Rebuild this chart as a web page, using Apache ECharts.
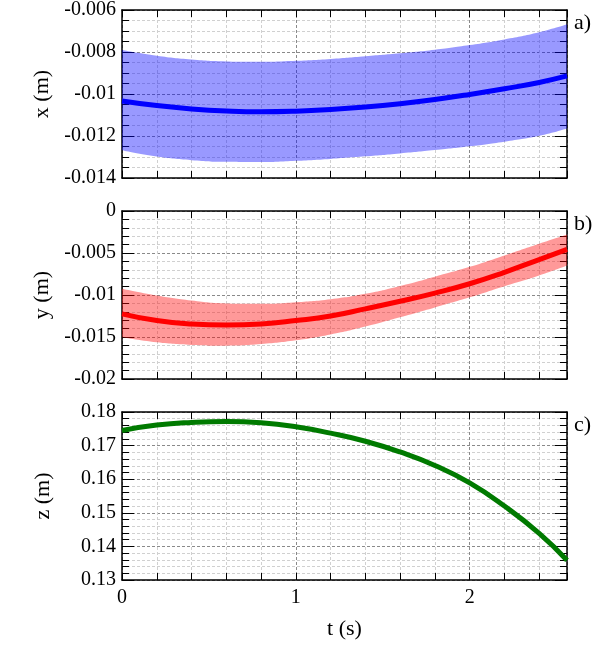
<!DOCTYPE html>
<html>
<head>
<meta charset="utf-8">
<script src="https://cdn.jsdelivr.net/npm/echarts@6/dist/echarts.min.js"></script>
<style>
  html, body { margin: 0; padding: 0; background: #fff; }
  #main { width: 607px; height: 646px; }
</style>
</head>
<body>
<div id="main"></div>
<script>
// time samples (s)
const tVals = [0, 0.2, 0.4, 0.6, 0.8, 1.0, 1.2, 1.4, 1.6, 1.8, 2.0, 2.2, 2.4, 2.56];

// a) x (m)
const xMean  = [-0.01033, -0.01055, -0.01071, -0.01081, -0.01085, -0.01082, -0.01074, -0.01062, -0.01046, -0.01026, -0.01002, -0.00975, -0.00945, -0.00914];
const xUpper = [-0.00791, -0.00818, -0.00836, -0.00845, -0.00847, -0.00842, -0.00833, -0.00820, -0.00806, -0.00789, -0.00767, -0.00740, -0.00706, -0.00668];
const xLower = [-0.01268, -0.01298, -0.01315, -0.01323, -0.01324, -0.01318, -0.01309, -0.01297, -0.01283, -0.01267, -0.01249, -0.01227, -0.01199, -0.01164];

// b) y (m)
const yMean  = [-0.01224, -0.01304, -0.01344, -0.01356, -0.01344, -0.01304, -0.01250, -0.01165, -0.01075, -0.00978, -0.00866, -0.00730, -0.00578, -0.00457];
const yUpper = [-0.00926, -0.01006, -0.01066, -0.01100, -0.01105, -0.01086, -0.01050, -0.00986, -0.00892, -0.00782, -0.00665, -0.00529, -0.00390, -0.00280];
const yLower = [-0.01503, -0.01563, -0.01594, -0.01603, -0.01584, -0.01540, -0.01470, -0.01375, -0.01265, -0.01148, -0.01028, -0.00895, -0.00767, -0.00648];

// c) z (m)
const zMean  = [0.1745, 0.1761, 0.1769, 0.1772, 0.1768, 0.1756, 0.1737, 0.1713, 0.1681, 0.1641, 0.1589, 0.1520, 0.1439, 0.1359];

// y axis ranges per panel
const yNames   = ['x (m)', 'y (m)', 'z (m)'];
const yMins    = [-0.014, -0.02, 0.13];
const yMaxs    = [-0.006, 0, 0.18];
const yIntervals = [0.002, 0.005, 0.01];
const yMinorSplits = [4, 5, 5];
const panelTags = ['a)', 'b)', 'c)'];

const FONT = "'Liberation Serif', 'Times New Roman', serif";
const gridTops = [10, 211, 412];
const gridH = 168;
const tMax = 2.56;

const darkGrid = { show: true, lineStyle: { color: '#8a8a8a', type: [3, 2], width: 1 } };
const lightGrid = { show: true, lineStyle: { color: '#d0d0d0', type: [3, 2], width: 1 } };
const frameLine = { show: true, onZero: false, lineStyle: { color: '#000', width: 1.5 } };

// value first, time second: stacking then applies to the value (y) dimension
const pairs = arr => tVals.map((t, i) => [arr[i], t]);
const fmt = v => String(+v.toFixed(6));

let grids = [], xAxes = [], yAxes = [], series = [], graphic = [];

for (let g = 0; g < 3; g++) {
  grids.push({ left: 122, right: 40, top: gridTops[g], height: gridH });
  // minor x grid + ticks (every 0.2)
  xAxes.push({
    type: 'value', gridIndex: g, min: 0, max: tMax, interval: 0.2, position: 'bottom',
    axisLine: frameLine, axisTick: { show: true, inside: true, length: 7, lineStyle: { color: '#000' } },
    axisLabel: { show: false }, splitLine: lightGrid
  });
  // major x grid + labels
  xAxes.push({
    type: 'value', gridIndex: g, min: 0, max: tMax, interval: 1, position: 'bottom',
    axisLine: { show: false }, axisTick: { show: false },
    axisLabel: { show: g === 2, showMaxLabel: false, fontFamily: FONT, fontSize: 20, color: '#000', margin: 8 },
    splitLine: darkGrid,
    name: g === 2 ? 't (s)' : '', nameLocation: 'middle', nameGap: 38,
    nameTextStyle: { fontFamily: FONT, fontSize: 22, color: '#000' }
  });
  // top frame
  xAxes.push({
    type: 'value', gridIndex: g, min: 0, max: tMax, interval: 0.2, position: 'top',
    axisLine: frameLine, axisTick: { show: true, inside: true, length: 7, lineStyle: { color: '#000' } },
    axisLabel: { show: false }, splitLine: { show: false }
  });
  // left y axis
  yAxes.push({
    type: 'value', gridIndex: g, min: yMins[g], max: yMaxs[g], interval: yIntervals[g], position: 'left',
    axisLine: frameLine,
    axisTick: { show: true, inside: true, length: 12, lineStyle: { color: '#000' } },
    minorTick: { show: true, splitNumber: yMinorSplits[g], length: 7, lineStyle: { color: '#000' } },
    axisLabel: { fontFamily: FONT, fontSize: 20, color: '#000', margin: 6, formatter: fmt },
    splitLine: darkGrid, minorSplitLine: lightGrid,
    name: yNames[g], nameLocation: 'middle', nameRotate: 90, nameGap: 68,
    nameTextStyle: { fontFamily: FONT, fontSize: 22, color: '#000' }
  });
  // right y frame
  yAxes.push({
    type: 'value', gridIndex: g, min: yMins[g], max: yMaxs[g], interval: yIntervals[g], position: 'right',
    axisLine: frameLine,
    axisTick: { show: true, inside: true, length: 12, lineStyle: { color: '#000' } },
    minorTick: { show: true, splitNumber: yMinorSplits[g], length: 7, lineStyle: { color: '#000' } },
    axisLabel: { show: false }, splitLine: { show: false }
  });
  graphic.push({
    type: 'text', left: 574, top: gridTops[g] + 2,
    style: { text: panelTags[g], font: "22px 'Liberation Serif', serif", fill: '#000' }
  });
}

const enc = { x: 1, y: 0 };

function addBand(g, lower, upper, color, key) {
  series.push({
    type: 'line', xAxisIndex: 3 * g, yAxisIndex: 2 * g, data: pairs(lower), encode: enc,
    stack: key, stackStrategy: 'all', smooth: true, symbol: 'none',
    lineStyle: { opacity: 0 }, z: 1
  });
  series.push({
    type: 'line', xAxisIndex: 3 * g, yAxisIndex: 2 * g, encode: enc,
    data: pairs(upper.map((u, i) => u - lower[i])),
    stack: key, stackStrategy: 'all', smooth: true, symbol: 'none',
    lineStyle: { opacity: 0 }, areaStyle: { color: color, opacity: 1 }, z: 1
  });
}
function addLine(g, arr, color) {
  series.push({
    type: 'line', xAxisIndex: 3 * g, yAxisIndex: 2 * g, data: pairs(arr), encode: enc,
    smooth: true, symbol: 'none', lineStyle: { color: color, width: 5 }, z: 3
  });
}

addBand(0, xLower, xUpper, 'rgba(0,0,255,0.4)', 'xb');
addLine(0, xMean, '#0000ff');
addBand(1, yLower, yUpper, 'rgba(255,0,0,0.4)', 'yb');
addLine(1, yMean, '#ff0000');
addLine(2, zMean, '#007a00');

const chart = echarts.init(document.getElementById('main'));
chart.setOption({
  animation: false,
  backgroundColor: '#fff',
  grid: grids,
  xAxis: xAxes,
  yAxis: yAxes,
  series: series,
  graphic: graphic
});
</script>
</body>
</html>
